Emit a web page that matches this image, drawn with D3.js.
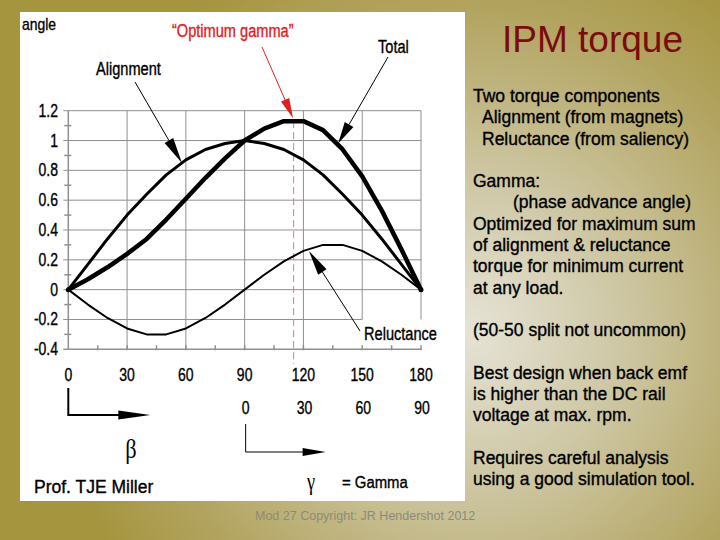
<!DOCTYPE html>
<html><head><meta charset="utf-8">
<script src="https://cdn.jsdelivr.net/npm/d3@7"></script>
<style>html,body{margin:0;padding:0;background:#b0a257;}svg{display:block;}</style>
</head><body>
<script>
// ---- data ----
const beta = [0,10,20,30,40,50,60,70,80,90,100,110,120,130,140,150,160,170,180];
const alignment = [0,0.17,0.34,0.50,0.64,0.77,0.87,0.94,0.98,1.00,0.98,0.94,0.87,0.77,0.64,0.50,0.34,0.17,0];
const reluctance = [0,-0.10,-0.19,-0.26,-0.30,-0.30,-0.26,-0.19,-0.10,0,0.10,0.19,0.26,0.30,0.30,0.26,0.19,0.10,0];
const total = [0,0.07,0.15,0.24,0.34,0.47,0.61,0.75,0.88,1.00,1.08,1.13,1.13,1.07,0.94,0.76,0.53,0.27,0];
const betaTicks = [0,30,60,90,120,150,180];
const gammaTicks = [0,30,60,90];
const yTicks = [-0.4,-0.2,0,0.2,0.4,0.6,0.8,1,1.2];
const optimumBeta = 115;
const bulletLines = [
  ["Two torque components",0],["Alignment (from magnets)",1],["Reluctance (from saliency)",1],
  ["",0],["Gamma:",0],["(phase advance angle)",2],["Optimized for maximum sum",0],
  ["of alignment & reluctance",0],["torque for minimum current",0],["at any load.",0],["",0],
  ["(50-50 split not uncommon)",0],["",0],["Best design when back emf",0],["is higher than the DC rail",0],
  ["voltage at max. rpm.",0],["",0],["Requires careful analysis",0],["using a good simulation tool.",0]
];

const W=720,H=540;
const svg=d3.select("body").append("svg").attr("width",W).attr("height",H);
const defs=svg.append("defs");
const rg=defs.append("radialGradient").attr("id","bg").attr("gradientUnits","userSpaceOnUse")
  .attr("cx",470).attr("cy",330).attr("r",420);
rg.append("stop").attr("offset",0).attr("stop-color","#e6e3d6");
rg.append("stop").attr("offset",0.35).attr("stop-color","#cfc8a6");
rg.append("stop").attr("offset",0.75).attr("stop-color","#b3a562");
rg.append("stop").attr("offset",1).attr("stop-color","#a5953f");
svg.append("rect").attr("width",W).attr("height",H).attr("fill","url(#bg)");
svg.append("rect").attr("x",20).attr("y",12).attr("width",445).attr("height",489).attr("fill","#fff");

const narrow="'Liberation Sans',Arial,sans-serif";
const sans="'Liberation Sans',Arial,sans-serif";
const serif="'Liberation Serif','DejaVu Serif',serif";
// condense text horizontally (reference uses a narrow face)
function condense(sel,f){
  sel.each(function(){
    const w=this.getComputedTextLength();
    if(w>0) d3.select(this).attr("textLength",w*f).attr("lengthAdjust","spacingAndGlyphs");
  });
}
function heavy(sel,c){ sel.attr("stroke",c||"#000").attr("stroke-width",0.35); }

const x=d3.scaleLinear().domain([0,180]).range([68.3,421]);
const y=d3.scaleLinear().domain([-0.4,1.2]).range([349.3,110.7]);
const g=svg.append("g");
const grid="#8f8f8f";

// horizontal gridlines
g.selectAll("line.h").data(yTicks.filter(v=>v>-0.4)).enter().append("line")
  .attr("x1",x(0)-5).attr("x2",v=>v===-0.2?x(150):x(180))
  .attr("y1",v=>y(v)).attr("y2",v=>y(v)).attr("stroke",grid).attr("stroke-width",1);
// vertical gridlines
g.selectAll("line.v").data(betaTicks.filter(b=>b>0)).enter().append("line")
  .attr("x1",b=>x(b)).attr("x2",b=>x(b)).attr("y1",y(1.2))
  .attr("y2",b=>b>=150?y(-0.2):y(-0.4)).attr("stroke",grid).attr("stroke-width",1);
// axes
g.append("line").attr("x1",x(0)).attr("x2",x(0)).attr("y1",y(1.2)).attr("y2",y(-0.4)).attr("stroke",grid).attr("stroke-width",1.5);
g.append("line").attr("x1",x(0)).attr("x2",x(180)).attr("y1",y(-0.4)).attr("y2",y(-0.4)).attr("stroke",grid).attr("stroke-width",1.5);
g.append("line").attr("x1",x(0)-5).attr("x2",x(0)).attr("y1",y(-0.4)).attr("y2",y(-0.4)).attr("stroke",grid).attr("stroke-width",1.5);
// minor ticks
const minorY=d3.range(-3,12,2).map(k=>k/10);
g.selectAll("line.my").data(minorY).enter().append("line")
  .attr("x1",x(0)-4).attr("x2",x(0)+3).attr("y1",v=>y(v)).attr("y2",v=>y(v)).attr("stroke",grid).attr("stroke-width",1.5);
const minorX=d3.range(15,181,15);
g.selectAll("line.mx").data(minorX).enter().append("line")
  .attr("x1",b=>x(b)).attr("x2",b=>x(b)).attr("y1",y(-0.4)-4).attr("y2",y(-0.4)+1).attr("stroke",grid).attr("stroke-width",1.5);

// tick labels
g.selectAll("text.yt").data(yTicks).enter().append("text")
  .attr("x",58).attr("y",v=>y(v)+6).attr("text-anchor","end")
  .attr("font-family",narrow).attr("font-size",17.5).text(v=>v===0?"0":String(v)).call(condense,0.8).call(heavy);
g.selectAll("text.xt").data(betaTicks).enter().append("text")
  .attr("x",b=>x(b)).attr("y",381).attr("text-anchor","middle")
  .attr("font-family",narrow).attr("font-size",17.5).text(b=>b).call(condense,0.8).call(heavy);
g.selectAll("text.gt").data(gammaTicks).enter().append("text")
  .attr("x",gm=>x(gm+90)+1).attr("y",414).attr("text-anchor","middle")
  .attr("font-family",narrow).attr("font-size",17.5).text(gm=>gm).call(condense,0.8).call(heavy);

// optimum dashed line
g.append("line").attr("x1",x(optimumBeta)).attr("x2",x(optimumBeta)).attr("y1",y(1.13)).attr("y2",364)
  .attr("stroke","#e47a7a").attr("stroke-width",1).attr("stroke-dasharray","7,4");

// curves
const line=d3.line().x((d,i)=>x(beta[i])).y(d=>y(d));
g.append("path").datum(reluctance).attr("d",line).attr("fill","none").attr("stroke","#000").attr("stroke-width",2).attr("stroke-linejoin","round");
g.append("path").datum(alignment).attr("d",line).attr("fill","none").attr("stroke","#000").attr("stroke-width",3).attr("stroke-linejoin","round");
g.append("path").datum(total).attr("d",line).attr("fill","none").attr("stroke","#000").attr("stroke-width",4.5).attr("stroke-linejoin","round");
g.selectAll("circle.end").data([0,180]).enter().append("circle").attr("cx",b=>x(b)).attr("cy",y(0)).attr("r",2.5).attr("fill","#000");

// annotations: label, text pos, leader start, tip (data coords)
const annots=[
  {t:"Alignment",tx:96,ty:75,sx:135,sy:82,tb:58,tv:0.85,len:26,hw:5,c:"#000",lw:1},
  {t:"Total",tx:378,ty:53,sx:388,sy:57,tb:137.7,tv:0.98,len:22,hw:5,c:"#000",lw:1},
  {t:"\u201COptimum gamma\u201D",tx:172,ty:37,sx:262,sy:47,tb:114.7,tv:1.15,len:20,hw:4.5,c:"#e0201c",lw:1},
  {t:"Reluctance",tx:364,ty:340,sx:360,sy:331,tb:122.8,tv:0.26,len:25,hw:5,c:"#000",lw:1}
];
annots.forEach(a=>{
  const tx=x(a.tb),ty=y(a.tv);
  const dx=tx-a.sx,dy=ty-a.sy,L=Math.hypot(dx,dy),ux=dx/L,uy=dy/L;
  const bx=tx-ux*a.len,by=ty-uy*a.len;
  g.append("line").attr("x1",a.sx).attr("y1",a.sy).attr("x2",bx).attr("y2",by).attr("stroke",a.c).attr("stroke-width",a.lw);
  g.append("path").attr("d",`M${tx},${ty}L${bx-uy*a.hw},${by+ux*a.hw}L${bx+uy*a.hw},${by-ux*a.hw}Z`).attr("fill",a.c);
  g.append("text").attr("x",a.tx).attr("y",a.ty).attr("font-family",narrow).attr("font-size",18).attr("fill",a.c).text(a.t).call(condense,0.81).call(heavy,a.c);
});
g.append("text").attr("x",22).attr("y",30).attr("font-family",narrow).attr("font-size",17).text("angle").call(condense,0.82).call(heavy);

// beta/gamma direction arrows
g.append("path").attr("d",`M${x(0)},388V415H${x(0)+52}`).attr("fill","none").attr("stroke","#000").attr("stroke-width",2);
g.append("path").attr("d",`M${x(0)+50},410.5L${x(0)+82},415L${x(0)+50},419.5Z`).attr("fill","#000");
g.append("path").attr("d",`M${x(90)+1},424V452H${x(90)+60}`).attr("fill","none").attr("stroke","#000").attr("stroke-width",1);
g.append("path").attr("d",`M${x(90)+58},448L${x(90)+81},452L${x(90)+58},456Z`).attr("fill","#000");
g.append("text").attr("x",131).attr("y",458).attr("text-anchor","middle").attr("font-family",serif).attr("font-size",28).text("\u03B2").call(condense,0.8);
g.append("text").attr("x",311).attr("y",490).attr("text-anchor","middle").attr("font-family",serif).attr("font-size",26).text("\u03B3").call(condense,0.7);
g.append("text").attr("x",342).attr("y",488).attr("font-family",sans).attr("font-size",16).text("= Gamma").call(condense,0.93).call(heavy);
g.append("text").attr("x",34).attr("y",493).attr("font-family",sans).attr("font-size",17.5).text("Prof. TJE Miller").call(heavy);

// right side
svg.append("text").attr("x",502).attr("y",52).attr("font-family",sans).attr("font-size",37).attr("fill","#7b0c0c").text("IPM torque");
const indent=[473,482,513];
svg.selectAll("text.b").data(bulletLines).enter().append("text")
  .attr("x",d=>indent[d[1]]).attr("y",(d,i)=>102+i*21.28).attr("font-family",sans).attr("font-size",17.5).attr("fill","#000").text(d=>d[0]).call(heavy);
svg.append("text").attr("x",255).attr("y",520).attr("font-family",sans).attr("font-size",12.5).attr("fill","#8d8b78").text("Mod 27 Copyright: JR Hendershot 2012");
svg.append("text").attr("x",657).attr("y",520).attr("font-family",sans).attr("font-size",12.5).attr("fill","#b8b085").text("271");
</script>
</body></html>
